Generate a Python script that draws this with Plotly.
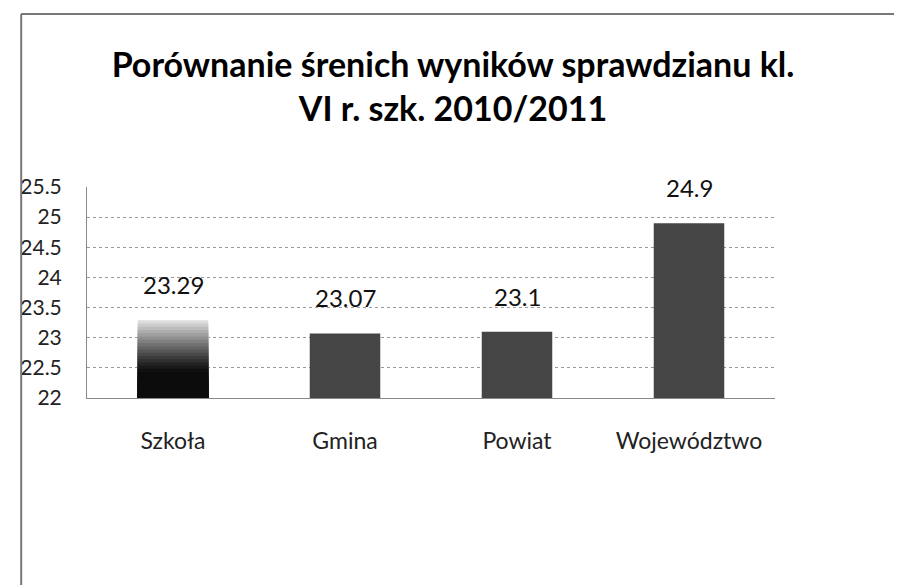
import plotly.graph_objects as go

categories = ["Szkoła", "Gmina", "Powiat", "Województwo"]
values = [23.29, 23.07, 23.1, 24.9]
value_labels = ["23.29", "23.07", "23.1", "24.9"]
y_ticks = [22, 22.5, 23, 23.5, 24, 24.5, 25, 25.5]
y_tick_labels = ["22", "22.5", "23", "23.5", "24", "24.5", "25", "25.5"]

Y0, Y1 = 22, 25.5
W, H = 902, 585
OFF = 8  # page body margin
ML, MR, MT, MB = 85 - OFF, 135, 187 - OFF, 585 - (398 - OFF)
FONT = "Lato, 'Open Sans', sans-serif"
BAR_W = 0.41

fig = go.Figure()

# Gradient bar for the first category (black at bottom, light grey at top)
N = 24
v0 = values[0]
for k in range(N):
    f = 1 - k / N
    t = max(0.0, (f - 0.35) / 0.65)
    g = int(round(12 + (t ** 1.2) * (220 - 12)))
    fig.add_trace(go.Bar(
        x=[categories[0]], y=[(v0 - Y0) * f], base=Y0,
        width=BAR_W, marker=dict(color=f"rgb({g},{g},{g})", line=dict(width=0)),
        hoverinfo="skip", showlegend=False,
    ))

# Remaining bars
fig.add_trace(go.Bar(
    x=categories[1:], y=[v - Y0 for v in values[1:]], base=Y0,
    width=BAR_W, marker=dict(color="#454545", line=dict(width=0)),
    showlegend=False,
))

annotations = [
    dict(x=c, y=v, xref="x", yref="y", text=lbl, showarrow=False,
         yanchor="bottom", yshift=19,
         font=dict(family=FONT, size=24, color="#111"))
    for c, v, lbl in zip(categories, values, value_labels)
]

plot_w = W - ML - MR
plot_h = H - MT - MB
def px_x(p):
    return (p - OFF - ML) / plot_w
def px_y(p):
    return (H - MB - (p - OFF)) / plot_h

fig.update_layout(
    width=W, height=H,
    barmode="overlay",
    paper_bgcolor="white", plot_bgcolor="white",
    margin=dict(l=ML, r=MR, t=MT, b=MB),
    font=dict(family=FONT, color="#111"),
    title=dict(
        text="<b>Porównanie śrenich wyników sprawdzianu kl.<br>VI r. szk. 2010/2011</b>",
        x=(453 - OFF) / W, xref="container", xanchor="center",
        y=1 - 69 / H, yref="container", yanchor="top",
        font=dict(family=FONT, size=34, color="#000"),
    ),
    xaxis=dict(
        showgrid=False, showline=True, linecolor="#888", linewidth=1,
        ticks="", tickfont=dict(family=FONT, size=23, color="#222"),
        ticklabelstandoff=22,
    ),
    yaxis=dict(
        range=[Y0, Y1], tickvals=y_ticks, ticktext=y_tick_labels,
        showgrid=True, gridcolor="#999", griddash="dot", gridwidth=1,
        showline=True, linecolor="#888", linewidth=1,
        ticks="", tickfont=dict(family=FONT, size=21, color="#222"),
        ticklabelstandoff=20, zeroline=False,
    ),
    annotations=annotations,
    shapes=[
        dict(type="line", xref="paper", yref="paper",
             x0=px_x(19), x1=px_x(W + 20), y0=px_y(14), y1=px_y(14),
             line=dict(color="#777", width=2)),
        dict(type="line", xref="paper", yref="paper",
             x0=px_x(19), x1=px_x(19), y0=px_y(14), y1=px_y(H + 20),
             line=dict(color="#777", width=2)),
    ],
)

fig.write_html("out.html")
